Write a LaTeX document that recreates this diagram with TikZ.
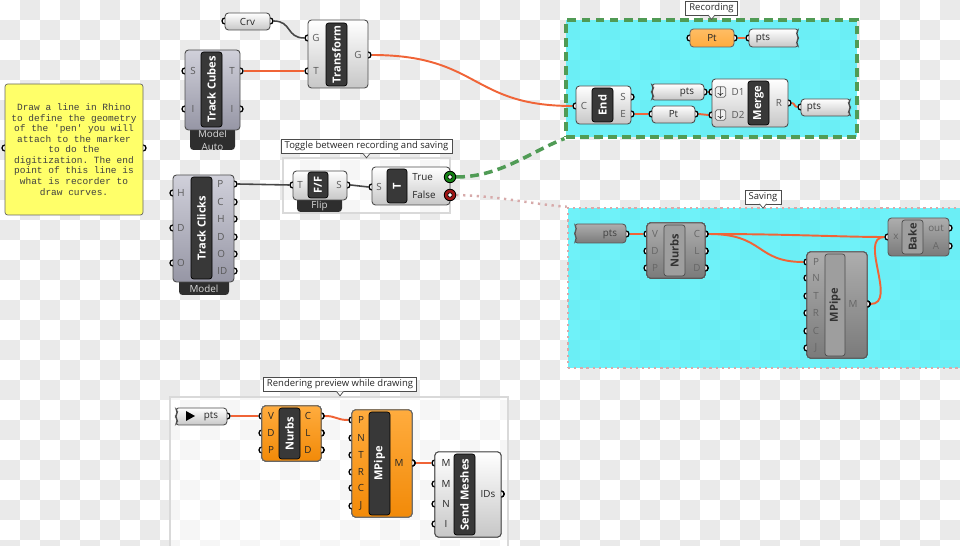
\documentclass[tikz,border=0pt]{standalone}
\usepackage{fontspec}
\setsansfont{Open Sans}
\setmonofont{Liberation Mono}
\usetikzlibrary{positioning,fit,calc}

\definecolor{wireorange}{RGB}{240,100,55}
\definecolor{wiregray}{RGB}{70,70,70}
\definecolor{grpcyan}{RGB}{80,240,248}
\definecolor{grpgreen}{RGB}{80,155,85}
\definecolor{grppink}{RGB}{215,170,170}
\definecolor{notefill}{RGB}{255,255,105}
\definecolor{checkgray}{RGB}{234,234,234}
\definecolor{orangetop}{RGB}{255,172,62}
\definecolor{orangebot}{RGB}{242,138,8}
\definecolor{tracktop}{RGB}{208,208,218}
\definecolor{trackbot}{RGB}{150,150,165}
\definecolor{truegreen}{RGB}{20,130,20}
\definecolor{falsered}{RGB}{160,20,20}

\pgfdeclarelayer{back}
\pgfdeclarelayer{wires}
\pgfsetlayers{back,wires,main}

\newcommand{\port}[3]{\node[ghport] (#1) at (#2,#3) {};}
\newcommand{\titletip}[1]{%
  \draw[draw=black!70, fill=white, line width=0.4pt]
    ($(#1.south)+(-3.5,-0.4)$) -- ($(#1.south)+(0,4)$) -- ($(#1.south)+(3.5,-0.4)$);}
% torn parameter, zigzag on the right: name, x1, y1, x2, y2, style
\newcommand{\zigright}[6]{%
  \draw[#6] (#2,#3) -- (#4,#3) -- ({#4-3},{#3+0.25*(#5-#3)}) -- (#4,{#3+0.5*(#5-#3)})
    -- ({#4-3},{#3+0.75*(#5-#3)}) -- (#4,#5) -- (#2,#5) -- cycle;
  \node[fit={(#2,#3) (#4,#5)}, inner sep=0pt] (#1) {};}
% torn parameter, zigzag on the left
\newcommand{\zigleft}[6]{%
  \draw[#6] (#4,#3) -- (#2,#3) -- ({#2+3},{#3+0.25*(#5-#3)}) -- (#2,{#3+0.5*(#5-#3)})
    -- ({#2+3},{#3+0.75*(#5-#3)}) -- (#2,#5) -- (#4,#5) -- cycle;
  \node[fit={(#2,#3) (#4,#5)}, inner sep=0pt] (#1) {};}

\tikzset{
  ghport/.style={circle, draw=black, fill=white, line width=0.75pt, minimum size=1.2mm, inner sep=0pt},
  ghbox/.style={draw=black!70, rounded corners=2pt, top color=white, bottom color=black!22, inner sep=0pt, line width=0.5pt},
  ghorange/.style={ghbox, draw=black!60, top color=orangetop, bottom color=orangebot},
  ghtrack/.style={ghbox, top color=tracktop, bottom color=trackbot},
  ghoff/.style={ghbox, draw=black!65, top color=black!32, bottom color=black!52},
  ghcore/.style={draw=black, fill=black!78, rounded corners=1.5pt, inner sep=0pt},
  ghcoreoff/.style={draw=black!70, fill=black!38, rounded corners=1.5pt, inner sep=0pt},
  ghname/.style={rotate=90, text=white, font=\sffamily\bfseries\fontsize{6.3}{7}\selectfont, inner sep=0pt},
  ghnameoff/.style={ghname, text=black!80},
  ghlbl/.style={text=black!65, font=\sffamily\fontsize{5.6}{6}\selectfont, inner sep=0pt},
  ghlbldark/.style={ghlbl, text=black!85},
  ghtab/.style={fill=black!82, rounded corners=2pt, inner sep=0pt},
  ghtabtext/.style={text=black!15, font=\sffamily\fontsize{5.6}{7.4}\selectfont, align=center, inner sep=0pt},
  ghtitle/.style={draw=black!70, fill=white, font=\sffamily\fontsize{5.4}{6}\selectfont, text=black!85, inner xsep=2pt, inner ysep=1.3pt, line width=0.4pt},
  grpbox/.style={inner sep=0pt, fill=white, fill opacity=0.6, draw=black!15, line width=0.6pt},
  boolport/.style={circle, draw=black, line width=0.5pt, minimum size=2.3mm, inner sep=0pt},
  wire/.style={draw=wireorange, line width=1.1pt},
  darkwire/.style={draw=wiregray, line width=0.9pt}
}

\begin{document}
\begin{tikzpicture}[x=0.02cm, y=-0.02cm]
\useasboundingbox (0,0) rectangle (960,546);

\begin{pgfonlayer}{back}
  % transparent canvas
  \fill[white] (0,0) rectangle (960,546);
  \foreach \i in {0,...,47} {
    \foreach \j in {0,...,27} {
      \ifodd\numexpr\i+\j\relax
        \fill[checkgray] (20*\i,20*\j) rectangle (20*\i+20,20*\j+20);
      \fi
    }
  }
  % groups
  \node[fit={(566,20) (857,137)}, inner sep=0pt, fill=grpcyan, fill opacity=0.82,
        draw=grpgreen, line width=1.8pt, dash pattern=on 5pt off 3pt] (recgrp) {};
  \node[fit={(568,208) (962,368)}, inner sep=0pt, fill=grpcyan, fill opacity=0.82,
        draw=grppink, line width=1.4pt, dash pattern=on 1.3pt off 2.2pt] (savegrp) {};
  \node[grpbox, fit={(283,158) (450,213)}] (togglegrp) {};
  \node[grpbox, fit={(170,397) (508,548)}] (rendergrp) {};
\end{pgfonlayer}

% group titles
\node[ghtitle] (rectitle) at (711.5,8) {Recording};
\titletip{rectitle}
\node[ghtitle] (toggletitle) at (366.5,146.5) {Toggle between recording and saving};
\titletip{toggletitle}
\node[ghtitle] (savetitle) at (763,197) {Saving};
\titletip{savetitle}
\node[ghtitle] (rendertitle) at (340,384.5) {Rendering preview while drawing};
\titletip{rendertitle}

% note
\port{note-i}{5}{148} \port{note-o}{143}{148}
\node[fit={(5,84) (143,215)}, inner sep=0pt, draw=black!60, fill=notefill, rounded corners=1.5pt] (note) {};
\node[font=\ttfamily\fontsize{5.4}{6}\selectfont, align=center, text=black!75] (notetext) at (note)
  {Draw a line in Rhino\\to define the geometry\\of the 'pen' you will\\attach to the marker\\to do the\\digitization. The end\\point of this line is\\what is recorder to\\draw curves.};

% Crv
\port{crv-i}{225}{21} \port{crv-o}{270}{21}
\node[ghbox, fit={(225,13) (270,30)}] (crv) {};
\node[ghlbldark] (crv-l) at (crv) {Crv};

% Transform
\port{tf-g}{308}{38} \port{tf-t}{308}{71} \port{tf-o}{368}{55}
\node[ghbox, fit={(308,20) (368,88)}] (tf) {};
\node[ghcore, fit={(326,23) (347,86)}] (tf-c) {};
\node[ghname] (tf-n) at (tf-c) {Transform};
\node[ghlbl] (tf-gl) at (316,38) {G};
\node[ghlbl] (tf-tl) at (316,71) {T};
\node[ghlbl] (tf-ol) at (358,55) {G};

% Track Cubes
\port{cubes-s}{185}{71} \port{cubes-i}{185}{109}
\port{cubes-t}{240}{71} \port{cubes-io}{240}{109}
\node[ghtab, fit={(190,120) (235,150)}] (cubes-tab) {};
\node[ghtabtext] (cubes-tabl) at (212.5,140) {Model\\Auto};
\node[ghtrack, fit={(185,50) (240,130)}] (cubes) {};
\node[ghcore, fit={(201,52) (222,127)}] (cubes-c) {};
\node[ghname] (cubes-n) at (cubes-c) {Track Cubes};
\node[ghlbl] (cubes-sl) at (193,71) {S};
\node[ghlbl] (cubes-il) at (193,109) {I};
\node[ghlbl] (cubes-tl) at (232,71) {T};
\node[ghlbl] (cubes-iol) at (232,109) {I};

% Track Clicks
\port{clicks-h}{173}{193} \port{clicks-d}{173}{228} \port{clicks-o}{173}{263}
\port{clicks-p}{234}{184} \port{clicks-co}{234}{202} \port{clicks-ho}{234}{219}
\port{clicks-do}{234}{237} \port{clicks-oo}{234}{254} \port{clicks-id}{234}{271}
\node[ghtab, fit={(179,270) (229,295)}] (clicks-tab) {};
\node[ghtabtext] (clicks-tabl) at (204,289) {Model};
\node[ghtrack, fit={(173,175) (234,282)}] (clicks) {};
\node[ghcore, fit={(191,177) (212,279)}] (clicks-c) {};
\node[ghname] (clicks-n) at (clicks-c) {Track Clicks};
\foreach \y/\t [count=\k] in {193/H,228/D,263/O}
  \node[ghlbl] (clicks-in\k) at (181,\y) {\t};
\foreach \y/\t [count=\k] in {184/P,202/C,219/H,237/D,254/O,271/ID}
  \node[ghlbl, anchor=west] (clicks-out\k) at (217,\y) {\t};

% Flip
\port{flip-t}{293}{185} \port{flip-s}{347}{185}
\node[ghtab, fit={(297,192) (342,212)}] (flip-tab) {};
\node[ghtabtext] (flip-tabl) at (319.5,206) {Flip};
\node[ghbox, fit={(293,171) (347,200)}] (flip) {};
\node[ghcore, fit={(308,172) (328,198)}] (flip-c) {};
\node[ghname] (flip-n) at (flip-c) {F/F};
\node[ghlbl] (flip-tl) at (300,185) {T};
\node[ghlbl] (flip-sl) at (339,185) {S};

% toggle
\port{tg-s}{372}{187}
\node[ghbox, fit={(372,167) (450,205)}] (tg) {};
\node[ghcore, fit={(387,169) (407,203)}] (tg-c) {};
\node[ghname] (tg-n) at (tg-c) {T};
\node[ghlbl] (tg-sl) at (379,187) {S};
\node[ghlbldark, anchor=west] (tg-truel) at (412,177) {True};
\node[ghlbldark, anchor=west] (tg-falsel) at (412,195) {False};
\node[boolport, fill=truegreen] (tg-true) at (450,177) {};
\node[ghport, minimum size=0.9mm, line width=0.4pt] (tg-truein) at (tg-true) {};
\node[boolport, fill=falsered] (tg-false) at (450,195) {};
\node[ghport, minimum size=0.9mm, line width=0.4pt] (tg-falsein) at (tg-false) {};

% Recording
\port{rec-pt-i}{690}{38} \port{rec-pt-o}{734}{38}
\node[ghorange, top color=orangetop!80!white, bottom color=orangetop, fit={(690,29) (734,47)}] (rec-pt) {};
\node[ghlbldark] (rec-ptl) at (rec-pt) {Pt};
\port{rec-store-i}{749}{38}
\zigright{rec-store}{749}{29}{799}{47}{ghbox}
\node[ghlbldark] (rec-storel) at (763,38) {pts};

\port{end-c}{576}{106} \port{end-s}{631}{97} \port{end-e}{631}{114}
\node[ghbox, fit={(576,86) (631,124)}] (end) {};
\node[ghcore, fit={(592,88) (613,122)}] (end-cc) {};
\node[ghname] (end-n) at (end-cc) {End};
\node[ghlbl] (end-cl) at (584,106) {C};
\node[ghlbl] (end-sl) at (623,97) {S};
\node[ghlbl] (end-el) at (623,114) {E};

\port{rec-pts-o}{704}{92}
\zigleft{rec-pts}{651}{84}{704}{100}{ghbox}
\node[ghlbldark] (rec-ptsl) at (687,92) {pts};
\port{rec-pt2-i}{652}{114} \port{rec-pt2-o}{695}{114}
\node[ghbox, fit={(652,106) (695,123)}] (rec-pt2) {};
\node[ghlbldark] (rec-pt2l) at (rec-pt2) {Pt};

\port{merge-d1}{712}{92} \port{merge-d2}{712}{115} \port{merge-r}{788}{103}
\node[ghbox, fit={(712,79) (788,127)}] (merge) {};
\node[ghcore, fit={(748,81) (769,125)}] (merge-c) {};
\node[ghname] (merge-n) at (merge-c) {Merge};
\foreach \y/\t [count=\k] in {92/D1,115/D2} {
  \node[draw=black!60, fill=black!6, rounded corners=1pt, minimum size=2.1mm, inner sep=0pt,
        font=\fontsize{6}{6}\selectfont] (merge-icon\k) at (720.5,\y) {$\downarrow$};
  \node[ghlbl] (merge-l\k) at (738,\y) {\t};
}
\node[ghlbl] (merge-rl) at (779,103) {R};

\port{rec-out-i}{801}{107}
\zigright{rec-out}{801}{99}{851}{116}{ghbox}
\node[ghlbldark] (rec-outl) at (814,107) {pts};

% Saving
\port{save-pts-o}{626}{234}
\zigleft{save-pts}{574}{224}{626}{243}{ghoff}
\node[ghlbl, text=black!75] (save-ptsl) at (610,234) {pts};

\foreach \y/\t [count=\k] in {234/V,251/D,268/P} \port{snurbs-i\k}{647}{\y}
\foreach \y/\t [count=\k] in {234/C,251/L,268/D} \port{snurbs-o\k}{705}{\y}
\node[ghoff, fit={(647,223) (705,278)}] (snurbs) {};
\node[ghcoreoff, fit={(664,225) (685,276)}] (snurbs-c) {};
\node[ghnameoff] (snurbs-n) at (snurbs-c) {Nurbs};
\foreach \y/\t [count=\k] in {234/V,251/D,268/P} \node[ghlbl, text=black!60] (snurbs-il\k) at (655,\y) {\t};
\foreach \y/\t [count=\k] in {234/C,251/L,268/D} \node[ghlbl, text=black!60] (snurbs-ol\k) at (697,\y) {\t};

\foreach \y/\t [count=\k] in {262/P,278/N,296/T,313/R,331/C,348/J} \port{spipe-i\k}{807}{\y}
\port{spipe-m}{867}{304}
\node[ghoff, fit={(807,252) (867,358)}] (spipe) {};
\node[ghcoreoff, fit={(825,254) (845,356)}] (spipe-c) {};
\node[ghnameoff] (spipe-n) at (spipe-c) {MPipe};
\foreach \y/\t [count=\k] in {262/P,278/N,296/T,313/R,331/C,348/J} \node[ghlbl, text=black!60] (spipe-il\k) at (816,\y) {\t};
\node[ghlbl, text=black!60] (spipe-ml) at (853,304) {M};

\port{bake-x}{888}{237} \port{bake-out}{949}{228} \port{bake-a}{949}{246}
\node[ghoff, fit={(888,218) (949,256)}] (bake) {};
\node[ghcoreoff, fit={(902,220) (923,254)}] (bake-c) {};
\node[ghnameoff] (bake-n) at (bake-c) {Bake};
\node[ghlbl, text=black!60] (bake-xl) at (896,237) {x};
\node[ghlbl, text=black!60] (bake-outl) at (936,228) {out};
\node[ghlbl, text=black!60] (bake-al) at (936,246) {A};

% Rendering preview
\port{rend-pts-o}{227}{416}
\zigleft{rend-pts}{175}{408}{227}{425}{ghbox}
\fill[black] (186,411) -- (195,416) -- (186,421) -- cycle;
\node[ghlbldark] (rend-ptsl) at (211,416) {pts};

\foreach \y/\t [count=\k] in {416/V,433/D,450/P} \port{rnurbs-i\k}{262}{\y}
\foreach \y/\t [count=\k] in {416/C,433/L,450/D} \port{rnurbs-o\k}{321}{\y}
\node[ghorange, fit={(262,406) (321,461)}] (rnurbs) {};
\node[ghcore, fit={(279,408) (300,459)}] (rnurbs-c) {};
\node[ghname] (rnurbs-n) at (rnurbs-c) {Nurbs};
\foreach \y/\t [count=\k] in {416/V,433/D,450/P} \node[ghlbldark] (rnurbs-il\k) at (271,\y) {\t};
\foreach \y/\t [count=\k] in {416/C,433/L,450/D} \node[ghlbldark] (rnurbs-ol\k) at (308,\y) {\t};

\foreach \y/\t [count=\k] in {420/P,438/N,455/T,472/R,488/C,506/J} \port{rpipe-i\k}{352}{\y}
\port{rpipe-m}{412}{463}
\node[ghorange, fit={(352,410) (412,517)}] (rpipe) {};
\node[ghcore, fit={(369,412) (390,515)}] (rpipe-c) {};
\node[ghname] (rpipe-n) at (rpipe-c) {MPipe};
\foreach \y/\t [count=\k] in {420/P,438/N,455/T,472/R,488/C,506/J} \node[ghlbldark] (rpipe-il\k) at (361,\y) {\t};
\node[ghlbldark] (rpipe-ml) at (399,463) {M};

\foreach \y/\t [count=\k] in {463/M,484/M,504/N,524/I} \port{send-i\k}{435}{\y}
\port{send-ids}{501}{494}
\node[ghbox, fit={(435,452) (501,537)}] (send) {};
\node[ghcore, fit={(454,454) (475,535)}] (send-c) {};
\node[ghname] (send-n) at (send-c) {Send Meshes};
\foreach \y/\t [count=\k] in {463/M,484/M,504/N,524/I} \node[ghlbldark] (send-il\k) at (446,\y) {\t};
\node[ghlbldark] (send-idsl) at (488,494) {IDs};

% wires
\begin{pgfonlayer}{wires}
  \draw[darkwire] (crv-o.east) .. controls (292,21) and (286,38) .. (tf-g.west);
  \draw[wire] (cubes-t.east) -- (tf-t.west);
  \draw[wire] (tf-o.east) .. controls (480,55) and (470,106) .. (end-c.west);
  \draw[wire] (rec-pt-o.east) -- (rec-store-i.west);
  \draw[wire] (end-e.east) -- (rec-pt2-i.west);
  \draw[wire] (rec-pts-o.east) -- (merge-d1.west);
  \draw[wire] (rec-pt2-o.east) -- (merge-d2.west);
  \draw[wire] (merge-r.east) .. controls (795,103) and (794,107) .. (rec-out-i.west);
  \draw[darkwire] (clicks-p.east) -- (flip-t.west);
  \draw[darkwire] (flip-s.east) -- (tg-s.west);
  \draw[grpgreen, line width=2pt, dash pattern=on 5pt off 3pt]
    (tg-true.east) .. controls (500,177) and (530,152) .. (recgrp.south west);
  \draw[grppink, line width=1.4pt, dash pattern=on 1.3pt off 2.6pt]
    (tg-false.east) .. controls (500,196) and (530,204) .. (savegrp.north west);
  \draw[wire] (save-pts-o.east) -- (snurbs-i1.west);
  \draw[wire] (snurbs-o1.east) .. controls (790,234) and (840,237) .. (bake-x.west);
  \draw[wire] (snurbs-o1.east) .. controls (765,234) and (755,262) .. (spipe-i1.west);
  \draw[wire] (spipe-m.east) .. controls (898,304) and (858,237) .. (bake-x.west);
  \draw[wire] (rend-pts-o.east) -- (rnurbs-i1.west);
  \draw[wire] (rnurbs-o1.east) .. controls (337,416) and (336,420) .. (rpipe-i1.west);
  \draw[wire] (rpipe-m.east) -- (send-i1.west);
\end{pgfonlayer}
\end{tikzpicture}
\end{document}
